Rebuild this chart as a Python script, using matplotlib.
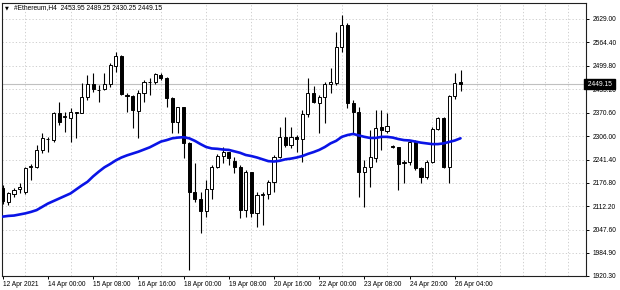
import matplotlib
matplotlib.use('Agg')

import matplotlib.pyplot as plt
import matplotlib.transforms as mtransforms

# ------------------------------------------------------------
# Datos: velas H4 de #Ethereum
# ------------------------------------------------------------
opens = [2163, 2125, 2146, 2160, 2153, 2222, 2222, 2268, 2297, 2295,
         2369, 2358, 2355, 2371, 2371, 2415, 2449, 2432, 2435, 2449,
         2499, 2528, 2419, 2417, 2376, 2426, 2454, 2456, 2474, 2465,
         2410, 2346, 2385, 2286, 2153, 2132, 2100, 2159, 2222, 2251,
         2261, 2238, 2222, 2102, 2206, 2093, 2144, 2146, 2180, 2249,
         2304, 2282, 2304, 2297, 2367, 2424, 2398, 2413, 2450, 2453,
         2551, 2612, 2398, 2373, 2208, 2220, 2245, 2330, 2321, 2279,
         2275, 2233, 2234, 2291, 2217, 2194, 2234, 2325, 2355, 2220,
         2417, 2453.95]
highs = [2171, 2153, 2162, 2176, 2222, 2228, 2282, 2314, 2304, 2373,
         2401, 2373, 2383, 2373, 2452, 2475, 2479, 2447, 2479, 2507,
         2539, 2530, 2424, 2419, 2433, 2461, 2465, 2479, 2479, 2470,
         2415, 2387, 2387, 2291, 2231, 2153, 2185, 2226, 2257, 2277,
         2263, 2249, 2226, 2213, 2208, 2153, 2153, 2185, 2254, 2332,
         2359, 2332, 2309, 2378, 2465, 2444, 2419, 2456, 2493, 2594,
         2640, 2617, 2406, 2387, 2240, 2323, 2378, 2378, 2369, 2281,
         2277, 2240, 2295, 2295, 2222, 2240, 2332, 2359, 2359, 2419,
         2479, 2489.25]
lows = [2119, 2116, 2139, 2148, 2146, 2185, 2217, 2259, 2263, 2291,
        2337, 2318, 2291, 2300, 2369, 2406, 2429, 2401, 2433, 2442,
        2484, 2419, 2373, 2328, 2300, 2401, 2419, 2450, 2460, 2387,
        2314, 2314, 2245, 1937, 2125, 2038, 2084, 2134, 2217, 2231,
        2226, 2203, 2079, 2084, 2084, 2056, 2061, 2134, 2153, 2245,
        2277, 2272, 2263, 2235, 2360, 2397, 2314, 2341, 2424, 2447,
        2539, 2383, 2314, 2139, 2111, 2167, 2235, 2268, 2314, 2273,
        2157, 2176, 2226, 2213, 2176, 2189, 2231, 2323, 2217, 2176,
        2408, 2430.25]
closes = [2127, 2148, 2157, 2167, 2217, 2224, 2268, 2300, 2299, 2371,
          2346, 2362, 2373, 2372, 2413, 2449, 2435, 2434, 2449, 2502,
          2528, 2422, 2417, 2378, 2424, 2456, 2456, 2477, 2465, 2410,
          2346, 2385, 2286, 2153, 2132, 2100, 2159, 2222, 2252, 2261,
          2245, 2222, 2102, 2206, 2093, 2144, 2146, 2180, 2249, 2304,
          2282, 2304, 2297, 2367, 2424, 2401, 2413, 2450, 2456, 2551,
          2612, 2398, 2373, 2208, 2220, 2249, 2328, 2323, 2334, 2275,
          2229, 2234, 2291, 2217, 2194, 2234, 2326, 2355, 2220, 2417,
          2453, 2449.15]

# media movil (linea azul)
ma_values = [2084, 2086, 2087, 2090, 2093, 2097, 2102, 2111, 2120, 2127,
             2134, 2141, 2148, 2159, 2170, 2180, 2195, 2208, 2220, 2229,
             2239, 2247, 2253, 2258, 2263, 2269, 2275, 2283, 2291, 2295,
             2300, 2302, 2303, 2300, 2293, 2284, 2276, 2272, 2271, 2269,
             2268, 2264, 2260, 2254, 2251, 2247, 2242, 2237, 2236, 2238,
             2242, 2244, 2247, 2251, 2257, 2262, 2268, 2276, 2286, 2293,
             2304, 2309, 2312, 2308, 2304, 2301, 2301, 2304, 2304, 2302,
             2298, 2295, 2294, 2291, 2288, 2286, 2284, 2284, 2286, 2290,
             2294, 2300]

time_labels = ["12 Apr 2021", "14 Apr 00:00", "15 Apr 08:00", "16 Apr 16:00",
               "18 Apr 00:00", "19 Apr 08:00", "20 Apr 16:00", "22 Apr 00:00",
               "23 Apr 08:00", "24 Apr 20:00", "26 Apr 04:00"]
price_ticks = [2629.00, 2564.40, 2499.80, 2435.20, 2370.60, 2306.00,
               2241.40, 2176.80, 2112.20, 2047.60, 1984.90, 1920.30]

symbol = "#Ethereum,H4"

# ------------------------------------------------------------
# Figura
# ------------------------------------------------------------
FONT = ['Liberation Sans', 'DejaVu Sans']
plt.rcParams['font.family'] = FONT
plt.rcParams['font.size'] = 4.8

fig = plt.figure(figsize=(6.2, 2.9), dpi=100)
fig.patch.set_facecolor('white')
ax = fig.add_axes([2 / 620, 14 / 290, 584 / 620, 273 / 290])

n = len(closes)
x = list(range(n))

# linea de precio actual (bid)
ax.axhline(closes[-1], color='#c0c0c0', lw=0.8, zorder=1)

# mechas
ax.vlines(x, lows, highs, color='black', lw=0.8, zorder=2)

# cuerpos
for i in x:
    o, c = opens[i], closes[i]
    bottom = min(o, c)
    height = max(abs(c - o), 1.5)
    face = 'white' if c >= o else 'black'
    ax.bar(i, height, bottom=bottom, width=0.55, color=face,
           edgecolor='black', linewidth=0.7, zorder=3)

# media movil
ax.plot(x, ma_values, color='#0a14e6', lw=1.9, zorder=4, solid_capstyle='round')

# ejes
ax.set_xlim(-0.12, 103.2)
ax.set_ylim(1920.3, 2673.1)

ax.set_xticks(range(0, n, 8))
ax.set_xticklabels(time_labels, ha='left')
ax.set_xticks(range(0, n + 22, 4), minor=True)
ax.tick_params(axis='x', which='major', length=2.5, width=0.7, pad=1.2,
               labelsize=4.8, color='black')
ax.tick_params(axis='x', which='minor', length=0)

ax.yaxis.tick_right()
ax.set_yticks(price_ticks)
ax.set_yticklabels([f"{p:.2f}" for p in price_ticks])
ax.tick_params(axis='y', length=2.5, width=0.7, pad=2.0, labelsize=4.8)

# rejilla punteada
ax.grid(True, which='major', axis='y', color='#c8c8c8', lw=0.6, ls=(0, (1.5, 2.5)))
ax.grid(True, which='minor', axis='x', color='#c8c8c8', lw=0.6, ls=(0, (1.5, 2.5)))
ax.set_axisbelow(True)

for side in ['left', 'right', 'top', 'bottom']:
    ax.spines[side].set_color('#202020')
    ax.spines[side].set_linewidth(0.8)

# etiqueta del precio actual
trans = mtransforms.blended_transform_factory(ax.transAxes, ax.transData)
ax.text(1.0, closes[-1], f" {closes[-1]:.2f} ", transform=trans, ha='left',
        va='center', color='white', fontsize=4.8, zorder=6, clip_on=False,
        bbox=dict(boxstyle='square,pad=0.25', facecolor='black', edgecolor='black'))

# encabezado
fig.text(5 / 620, 1 - 7.5 / 290, "\u25bc", fontsize=3.6, va='center', ha='left',
         family=['DejaVu Sans'])
header = f"{symbol}  {opens[-1]:.2f} {highs[-1]:.2f} {lows[-1]:.2f} {closes[-1]:.2f}"
fig.text(14 / 620, 1 - 7.5 / 290, header, fontsize=4.8, va='center', ha='left')

fig.savefig('out.png', dpi=100, facecolor='white')
